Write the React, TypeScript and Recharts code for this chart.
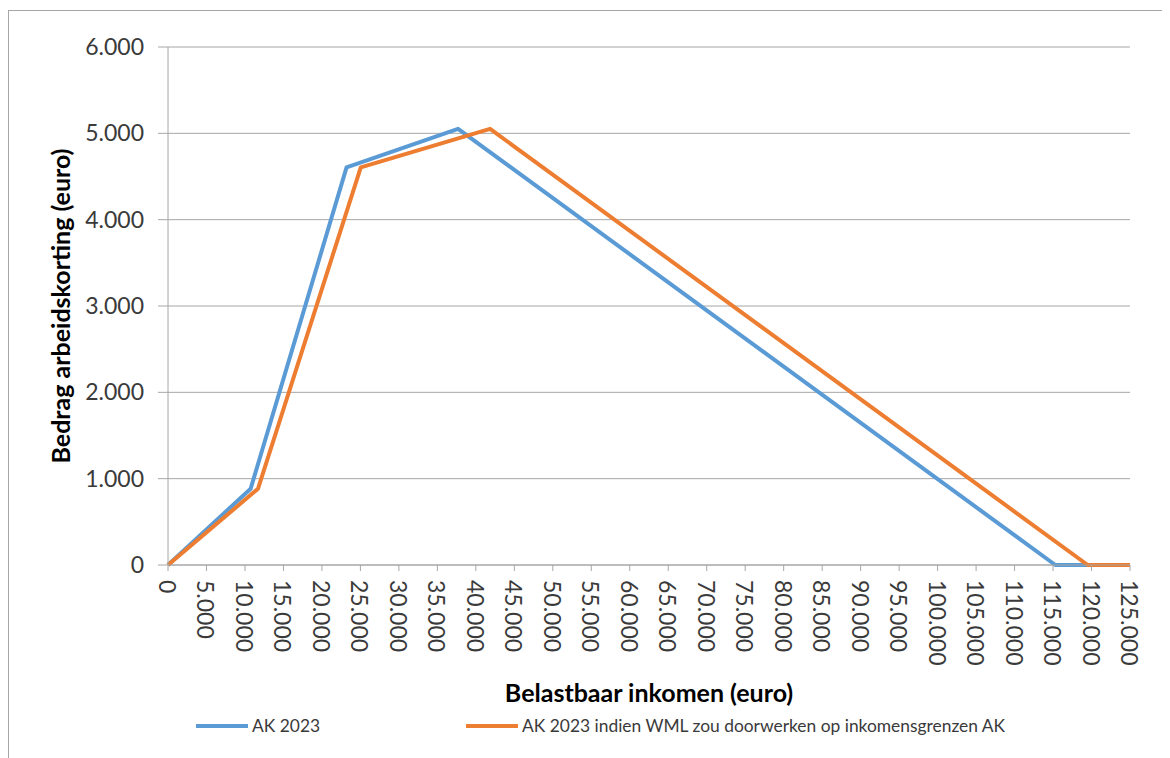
import React from "react";
import {
  LineChart,
  Line,
  XAxis,
  YAxis,
  CartesianGrid,
  Legend,
} from "recharts";

const incomeTicks = [
  0, 5000, 10000, 15000, 20000, 25000, 30000, 35000, 40000, 45000, 50000,
  55000, 60000, 65000, 70000, 75000, 80000, 85000, 90000, 95000, 100000,
  105000, 110000, 115000, 120000, 125000,
];
const creditTicks = [0, 1000, 2000, 3000, 4000, 5000, 6000];

// AK 2023
const akIncome = [0, 10741, 23201, 37691, 115295, 125000];
const akCredit = [0, 884, 4605, 5052, 0, 0];

// AK 2023 indien WML zou doorwerken op inkomensgrenzen AK
const wmlIncome = [0, 11700, 25050, 41850, 119500, 125000];
const wmlCredit = [0, 884, 4605, 5052, 0, 0];

const akData = akIncome.map((x, i) => ({ income: x, credit: akCredit[i] }));
const wmlData = wmlIncome.map((x, i) => ({ income: x, credit: wmlCredit[i] }));

const FONT = "Lato, 'Noto Sans', sans-serif";
const BLUE = "#5B9BD5";
const ORANGE = "#ED7D31";
const GRID = "#a6a6a6";
const TEXT = "#3a3a3a";

const nl = (v: number) => (v === 0 ? "0" : v.toLocaleString("nl-NL"));

const XTick = (props: any) => {
  const { x, y, payload } = props;
  return (
    <text
      transform={`translate(${x}, ${y}) rotate(90)`}
      textAnchor="start"
      dominantBaseline="central"
      fontSize={23}
      fontFamily={FONT}
      fill={TEXT}
    >
      {nl(payload.value)}
    </text>
  );
};

const LegendContent = (props: any) => {
  const { payload } = props;
  return (
    <div style={{ display: "flex", fontFamily: FONT, fontSize: 17.4, color: TEXT }}>
      {(payload || []).map((p: any, i: number) => (
        <div
          key={i}
          style={{ display: "flex", alignItems: "center", width: i === 0 ? 270 : "auto" }}
        >
          <span
            style={{
              display: "inline-block",
              width: 52,
              height: 4,
              background: p.color,
              marginRight: 4,
            }}
          />
          <span>{p.value}</span>
        </div>
      ))}
    </div>
  );
};

export default function App() {
  return (
    <div
      style={{
        marginTop: 2,
        width: 1200,
        height: 780,
        border: `1px solid ${GRID}`,
        background: "#fff",
        boxSizing: "border-box",
      }}
    >
      <LineChart
        width={1160}
        height={745}
        margin={{ top: 36, right: 39, left: 9, bottom: 70 }}
      >
        <CartesianGrid vertical={false} stroke={GRID} strokeWidth={1} />
        <XAxis
          type="number"
          dataKey="income"
          domain={[0, 125000]}
          ticks={incomeTicks}
          interval={0}
          height={100}
          stroke={GRID}
          tickSize={6}
          tickMargin={9}
          tick={<XTick />}
          label={{
            content: ({ viewBox }: any) => (
              <text
                x={viewBox.x + viewBox.width / 2}
                y={681}
                textAnchor="middle"
                dominantBaseline="central"
                fontSize={25}
                fontWeight="bold"
                fontFamily={FONT}
                fill="#000"
              >
                Belastbaar inkomen (euro)
              </text>
            ),
          }}
        />
        <YAxis
          type="number"
          domain={[0, 6000]}
          ticks={creditTicks}
          interval={0}
          width={150}
          stroke={GRID}
          tickSize={10}
          tickMargin={14}
          tickFormatter={nl}
          tick={{ fontSize: 23, fontFamily: FONT, fill: TEXT }}
          label={{
            content: ({ viewBox }: any) => (
              <text
                transform={`translate(51, ${viewBox.y + viewBox.height / 2}) rotate(-90)`}
                textAnchor="middle"
                dominantBaseline="central"
                fontSize={25}
                fontWeight="bold"
                fontFamily={FONT}
                fill="#000"
              >
                Bedrag arbeidskorting (euro)
              </text>
            ),
          }}
        />
        <Legend
          content={<LegendContent />}
          wrapperStyle={{ left: 187, top: 704, width: 900, bottom: "auto" }}
        />
        <Line
          data={akData}
          dataKey="credit"
          name="AK 2023"
          type="linear"
          stroke={BLUE}
          strokeWidth={4}
          strokeLinejoin="round"
          dot={false}
          activeDot={false}
          isAnimationActive={false}
        />
        <Line
          data={wmlData}
          dataKey="credit"
          name="AK 2023 indien WML zou doorwerken op inkomensgrenzen AK"
          type="linear"
          stroke={ORANGE}
          strokeWidth={4}
          strokeLinejoin="round"
          dot={false}
          activeDot={false}
          isAnimationActive={false}
        />
      </LineChart>
    </div>
  );
}
